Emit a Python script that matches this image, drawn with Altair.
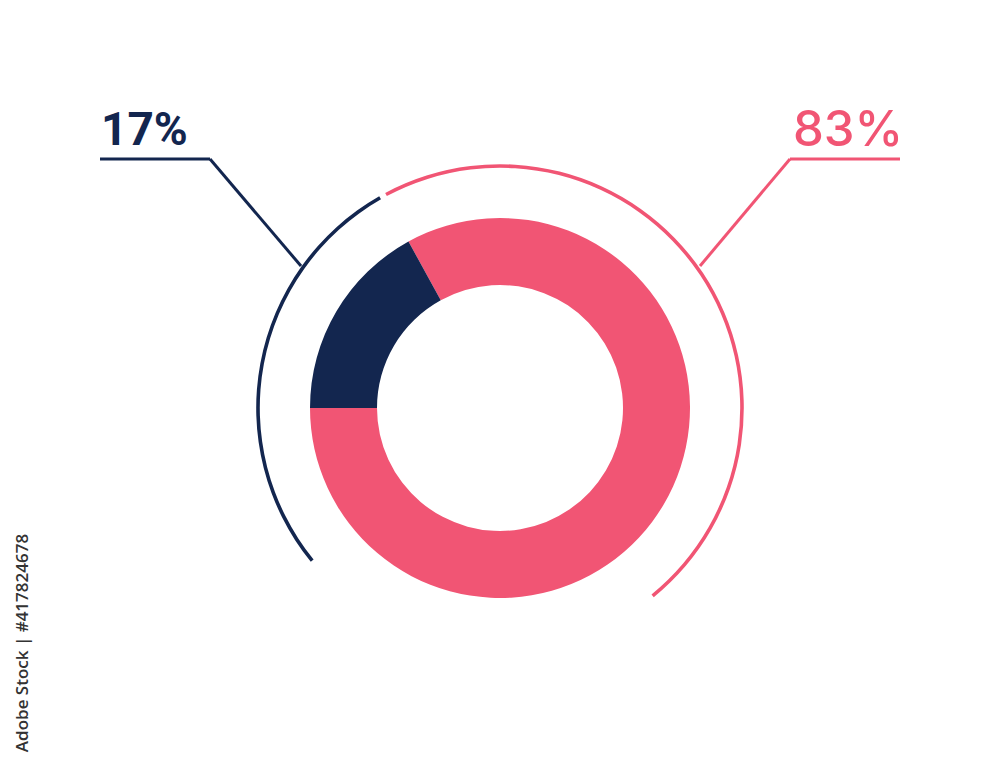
import math
import altair as alt
import pandas as pd

# ---- data ----
labels = ["83%", "17%"]
categories = ["B", "A"]
values = [83, 17]
order = [0, 1]
colors = ["#f15574", "#13264f"]

# ---- layout (chart pixel space) ----
W, H = 984, 751
CX, CY = 492, 400
START = math.radians(-28.8)

df = pd.DataFrame({"cat": categories, "value": values, "order": order})

donut = alt.Chart(df).mark_arc(innerRadius=123, outerRadius=190, stroke=None).encode(
    theta=alt.Theta("value:Q", stack=True,
                    scale=alt.Scale(domain=[0, sum(values)], range=[START, START + 2 * math.pi])),
    order=alt.Order("order:Q"),
    color=alt.Color("cat:N", scale=alt.Scale(domain=categories, range=colors), legend=None),
    x=alt.value(CX), y=alt.value(CY),
)

arc_df = pd.DataFrame({
    "cat": categories,
    "t1": [math.radians(-28.1), math.radians(230.9)],
    "t2": [math.radians(140.9), math.radians(330.3)],
})
outer = alt.Chart(arc_df).mark_arc(innerRadius=240.2, outerRadius=243.8).encode(
    theta=alt.Theta("t1:Q", scale=None),
    theta2="t2:Q",
    color=alt.Color("cat:N", scale=alt.Scale(domain=categories, range=colors), legend=None),
    x=alt.value(CX), y=alt.value(CY),
)

seg_df = pd.DataFrame({
    "cat": ["A", "A", "B", "B"],
    "x": [92, 202, 782, 782],
    "y": [151, 151, 151, 151],
    "x2": [202, 293, 892, 692],
    "y2": [151, 258, 151, 258],
})
leaders = alt.Chart(seg_df).mark_rule(strokeWidth=3, strokeCap="butt").encode(
    x=alt.X("x:Q", scale=None), y=alt.Y("y:Q", scale=None),
    x2="x2:Q", y2="y2:Q",
    color=alt.Color("cat:N", scale=alt.Scale(domain=categories, range=colors), legend=None),
)

lab_df = pd.DataFrame({"cat": ["A", "B"], "label": [labels[1], labels[0]],
                       "x": [93, 785], "y": [137, 138]})
text_a = alt.Chart(lab_df[lab_df.cat == "A"]).mark_text(
    align="left", baseline="alphabetic", fontSize=46, fontWeight=700, font="Roboto", color=colors[1]
).encode(x=alt.X("x:Q", scale=None), y=alt.Y("y:Q", scale=None), text="label:N")
text_b = alt.Chart(lab_df[lab_df.cat == "B"]).mark_text(
    align="left", baseline="alphabetic", fontSize=49, fontWeight=500, font="Inter", color=colors[0]
).encode(x=alt.X("x:Q", scale=None), y=alt.Y("y:Q", scale=None), text="label:N")

side_df = pd.DataFrame({"t": ["Adobe Stock | #417824678"], "x": [15], "y": [635]})
side = alt.Chart(side_df).mark_text(
    angle=270, align="center", baseline="middle", fontSize=17, fontWeight=600,
    font="Open Sans", color="#333333"
).encode(x=alt.X("x:Q", scale=None), y=alt.Y("y:Q", scale=None), text="t:N")

chart = alt.layer(outer, donut, leaders, text_a, text_b, side).properties(
    width=W, height=H, autosize=alt.AutoSizeParams(type="none"), padding=0,
    background="white"
).configure_view(stroke=None)

chart.save("out.html", embed_options={"renderer": "svg", "actions": False})
